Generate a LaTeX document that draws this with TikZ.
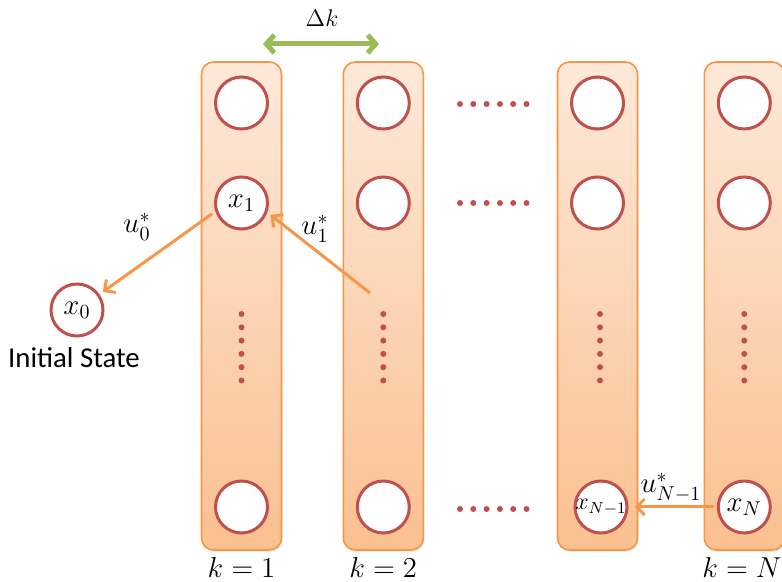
\documentclass[tikz,border=0pt]{standalone}
\usepackage{fontspec}
\setsansfont{Carlito}
\usetikzlibrary{arrows.meta,shadows}
\definecolor{colTop}{HTML}{FDE9D9}
\definecolor{colBot}{HTML}{FAC090}
\definecolor{colEdge}{HTML}{F79646}
\definecolor{stRed}{HTML}{C0504D}
\definecolor{ctrl}{HTML}{F79646}
\definecolor{dkGreen}{HTML}{9BBB59}
\tikzset{
  stage/.style={rectangle, rounded corners=6pt, draw=colEdge, line width=0.8pt,
    top color=colTop, bottom color=colBot, minimum width=40pt, minimum height=244pt,
    inner sep=0pt, drop shadow={opacity=0.18, shadow xshift=0.6pt, shadow yshift=-0.8pt}},
  state/.style={circle, draw=stRed, line width=1.5pt, fill=white, minimum size=26pt,
    inner sep=0pt, label={[font=\Large, inner sep=0pt]center:#1}},
  state/.default={},
  dot/.style={circle, fill=stRed, inner sep=0pt, minimum size=3pt},
  ctl/.style={draw=ctrl, line width=1.5pt, -{Straight Barb[length=4pt, width=8pt]}},
  dkarrow/.style={draw=dkGreen, line width=2.5pt,
    {Straight Barb[length=4pt, width=9pt]}-{Straight Barb[length=4pt, width=9pt]}},
  klabel/.style={font=\Large, anchor=base, inner sep=0pt},
}

\begin{document}
\begin{tikzpicture}[x=0.5pt, y=-0.5pt]
  \clip (0,0) rectangle (782,582);
  % stages k = 1, 2, N-1, N
  \foreach \cx [count=\c] in {241.5,383.3,597.5,744.3}
    \node[stage] (col\c) at (\cx,306) {};
  % empty states
  \foreach \cx [count=\c] in {241.5,383.3,597.5,744.3}
    \node[state] (top\c) at (\cx,103) {};
  \foreach \cx [count=\c] in {383.3,597.5,744.3}
    \node[state] (mid\c) at (\cx,203) {};
  \foreach \cx [count=\c] in {241.5,383.3}
    \node[state] (bot\c) at (\cx,507) {};
  % labelled states
  \node[state=$x_0$] (x0) at (77,310) {};
  \node[state=$x_1$] (x1) at (241.5,203) {};
  \node[state={\large$x_{N-1}$}] (xN1) at (601,507) {};
  \node[state=$x_N$] (xN) at (744.3,507) {};
  % vertical and horizontal dots
  \foreach \cx [count=\c] in {241.5,383.3,600,744.3}
    \foreach \i in {0,...,5}
      \node[dot] (vd\c-\i) at (\cx,{314+13.3*\i}) {};
  \foreach \ry [count=\r] in {104,203,509}
    \foreach \i in {0,...,5}
      \node[dot] (hd\r-\i) at ({460+13.3*\i},\ry) {};
  % controls
  \coordinate (u1tail) at (370,293);
  \draw[ctl, shorten <=2pt, shorten >=2pt] (x1.198) -- (x0.35);
  \draw[ctl, shorten >=2pt] (u1tail) -- (x1.-20);
  \draw[ctl, shorten <=1.5pt, shorten >=3pt] (xN) -- (xN1);
  \node[font=\Large, anchor=base] (u0) at (137,233) {$u_0^*$};
  \node[font=\Large, anchor=base] (u1) at (315,235) {$u_1^*$};
  \node[font=\Large, anchor=base] (uN1) at (671,493) {$u_{N-1}^*$};
  % step size
  \coordinate (dkL) at (263,44);
  \coordinate (dkR) at (379,44);
  \draw[dkarrow] (dkL) -- (dkR);
  \node[font=\large, anchor=base] (dk) at (322,27) {$\Delta k$};
  % captions
  \node[font=\sffamily\Large, anchor=base] (init) at (74,368) {Initial State};
  \node[klabel] (k1) at (241.5,577) {$k=1$};
  \node[klabel] (k2) at (383.3,577) {$k=2$};
  \node[klabel] (kN) at (742,577) {$k=N$};
\end{tikzpicture}
\end{document}
